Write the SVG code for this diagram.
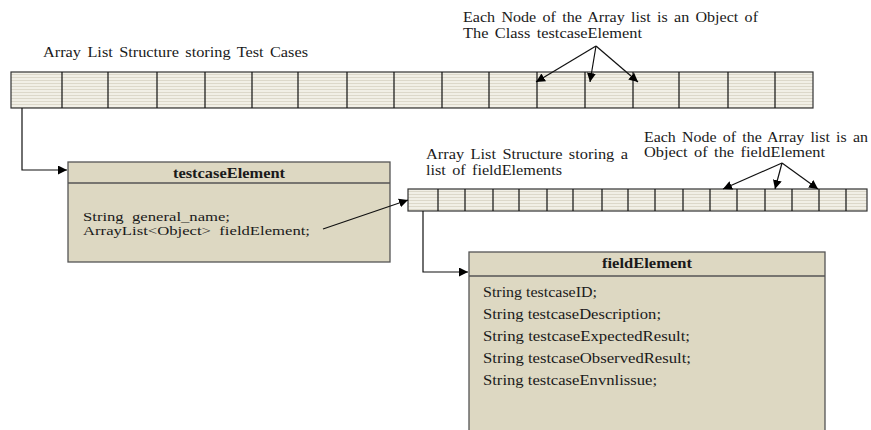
<svg xmlns="http://www.w3.org/2000/svg" width="871" height="430" viewBox="0 0 871 430">
<style>
text{font-family:"Liberation Serif","Times New Roman",serif;fill:#1a1a1a;font-size:14px}
.t{font-weight:bold}
.s{font-size:12px}
.box{fill:#DDD8C2;stroke:#555;stroke-width:1.3}
.cell{fill:url(#stripes);stroke:#333;stroke-width:1.2}
.ln{fill:none;stroke:#111;stroke-width:1.2}
</style>
<defs>
<pattern id="stripes" width="4" height="3" patternUnits="userSpaceOnUse">
<rect width="4" height="3" fill="#F1EFE6"/>
<rect y="2" width="4" height="1" fill="#DCD8CA"/>
</pattern>
<marker id="ah" viewBox="0 0 10 10" refX="10" refY="5" markerWidth="9" markerHeight="9" markerUnits="userSpaceOnUse" orient="auto">
<path d="M0,0L10,5L0,10z" fill="#000"/>
</marker>
</defs>

<g id="array1">
<rect class="cell" x="11" y="72" width="802" height="36"/>
<path class="ln" stroke="#333" d="M62,72V108M108,72V108M157,72V108M205,72V108M252,72V108M298,72V108M347,72V108M394,72V108M442,72V108M489,72V108M537,72V108M585,72V108M633,72V108M679,72V108M728,72V108M775,72V108"/>
<text x="43" y="57" textLength="265" lengthAdjust="spacingAndGlyphs" word-spacing="2">Array List Structure storing Test Cases</text>
</g>

<g id="note1">
<text x="463" y="22" textLength="295" lengthAdjust="spacingAndGlyphs" word-spacing="2">Each Node of the Array list is an Object of</text>
<text x="463" y="38" textLength="179" lengthAdjust="spacingAndGlyphs" word-spacing="2">The Class testcaseElement</text>
</g>

<g id="testcaseElement">
<rect class="box" x="68" y="162" width="322" height="100"/>
<line x1="68" y1="183" x2="390" y2="183" stroke="#555" stroke-width="1.3"/>
<text class="t" x="173" y="178" textLength="112" lengthAdjust="spacingAndGlyphs">testcaseElement</text>
<text class="s" x="83" y="221" textLength="147" lengthAdjust="spacingAndGlyphs" xml:space="preserve">String  general_name;</text>
<text class="s" x="83" y="235" textLength="227" lengthAdjust="spacingAndGlyphs" xml:space="preserve">ArrayList&lt;Object&gt;  fieldElement;</text>
</g>

<g id="array2">
<rect class="cell" x="408" y="189" width="459" height="22"/>
<path class="ln" stroke="#333" d="M438,189V211M465,189V211M493,189V211M519,189V211M547,189V211M573,189V211M602,189V211M628,189V211M655,189V211M683,189V211M710,189V211M737,189V211M765,189V211M792,189V211M819,189V211M846,189V211"/>
<text x="426" y="159" textLength="202" lengthAdjust="spacingAndGlyphs" word-spacing="2">Array List Structure storing a</text>
<text x="426" y="175" textLength="136" lengthAdjust="spacingAndGlyphs" word-spacing="2">list of fieldElements</text>
</g>

<g id="note2">
<text x="644" y="142" textLength="224" lengthAdjust="spacingAndGlyphs" word-spacing="2">Each Node of the Array list is an</text>
<text x="644" y="157" textLength="181" lengthAdjust="spacingAndGlyphs" word-spacing="2">Object of the fieldElement</text>
</g>

<g id="fieldElement">
<rect class="box" x="469" y="252" width="356" height="190"/>
<line x1="469" y1="276" x2="825" y2="276" stroke="#555" stroke-width="1.3"/>
<text class="t" x="602" y="268" textLength="90" lengthAdjust="spacingAndGlyphs">fieldElement</text>
<text x="483" y="297" textLength="114" lengthAdjust="spacingAndGlyphs">String testcaseID;</text>
<text x="483" y="319" textLength="178" lengthAdjust="spacingAndGlyphs">String testcaseDescription;</text>
<text x="483" y="341" textLength="207" lengthAdjust="spacingAndGlyphs">String testcaseExpectedResult;</text>
<text x="483" y="363" textLength="208" lengthAdjust="spacingAndGlyphs">String testcaseObservedResult;</text>
<text x="483" y="385" textLength="174" lengthAdjust="spacingAndGlyphs">String testcaseEnvnlissue;</text>
</g>

<g id="connectors">
<path class="ln" d="M22,108V170H67" marker-end="url(#ah)"/>
<path class="ln" d="M323,229L408,200" marker-end="url(#ah)"/>
<path class="ln" d="M423,211V272H468" marker-end="url(#ah)"/>
<path class="ln" d="M596,46L536,82" marker-end="url(#ah)"/>
<path class="ln" d="M596,46L590,82" marker-end="url(#ah)"/>
<path class="ln" d="M596,46L638,82" marker-end="url(#ah)"/>
<path class="ln" d="M782,163L723,189" marker-end="url(#ah)"/>
<path class="ln" d="M782,163L775,189" marker-end="url(#ah)"/>
<path class="ln" d="M782,163L818,189" marker-end="url(#ah)"/>
</g>
</svg>
